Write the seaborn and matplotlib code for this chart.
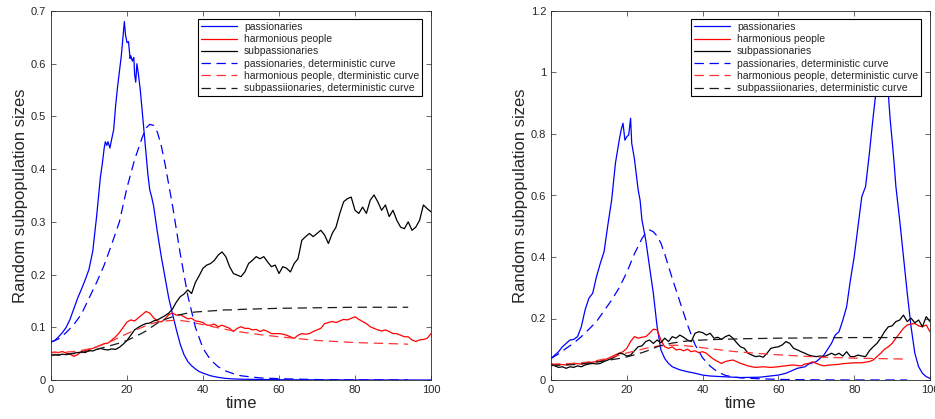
import numpy as np
import pandas as pd
import matplotlib
matplotlib.use("Agg")
import matplotlib.pyplot as plt
import seaborn as sns
from matplotlib.ticker import FuncFormatter

# ---------------- DATA ----------------
# Left panel, stochastic
L_pas_t = [0,1,2,3,4,5,6,7,8,9,10,11,12,13,13.5,14,14.3,14.7,15,15.5,16,16.5,17,17.5,18,18.5,19,19.3,19.6,20,20.4,20.8,21,21.4,21.8,22,22.3,22.6,23,23.5,24,24.5,25,25.5,26,26.5,27,28,29,30,31,32,33,34,35,36,37,38,39,40,42,44,46,48,50,55,60,70,80,90,100]
L_pas_v = [0.072,0.075,0.082,0.090,0.100,0.115,0.135,0.155,0.172,0.190,0.210,0.245,0.310,0.385,0.410,0.440,0.452,0.445,0.452,0.440,0.458,0.475,0.520,0.555,0.585,0.615,0.655,0.680,0.655,0.640,0.642,0.610,0.615,0.605,0.612,0.580,0.565,0.600,0.580,0.550,0.510,0.470,0.430,0.390,0.360,0.347,0.330,0.280,0.235,0.195,0.155,0.125,0.095,0.068,0.048,0.035,0.027,0.021,0.016,0.013,0.008,0.005,0.003,0.002,0.0015,0.001,0.0005,0.0002,0.0001,0.0,0.0]

L_t = list(range(0, 101))
L_harm_v = [0.052,0.053,0.052,0.054,0.051,0.049,0.045,0.048,0.054,0.056,0.058,0.060,0.063,0.066,0.069,0.070,0.076,0.082,0.090,0.100,0.110,0.114,0.112,0.118,0.124,0.130,0.127,0.118,0.112,0.110,0.116,0.124,0.127,0.123,0.124,0.120,0.116,0.117,0.112,0.111,0.109,0.104,0.104,0.106,0.101,0.104,0.101,0.098,0.092,0.098,0.101,0.098,0.098,0.095,0.096,0.092,0.095,0.092,0.088,0.088,0.088,0.087,0.085,0.082,0.079,0.085,0.088,0.087,0.088,0.092,0.095,0.098,0.107,0.109,0.111,0.109,0.112,0.115,0.114,0.117,0.120,0.115,0.111,0.107,0.101,0.098,0.095,0.093,0.095,0.092,0.088,0.088,0.085,0.082,0.082,0.076,0.073,0.076,0.077,0.079,0.088]
L_sub_v = [0.047,0.048,0.047,0.049,0.048,0.050,0.051,0.052,0.053,0.052,0.056,0.055,0.058,0.060,0.058,0.057,0.059,0.058,0.062,0.068,0.075,0.085,0.095,0.100,0.104,0.107,0.108,0.112,0.114,0.118,0.122,0.127,0.135,0.148,0.158,0.163,0.171,0.164,0.185,0.198,0.212,0.218,0.221,0.227,0.237,0.243,0.234,0.215,0.202,0.199,0.196,0.205,0.221,0.227,0.234,0.230,0.234,0.224,0.215,0.218,0.202,0.215,0.212,0.205,0.221,0.230,0.265,0.272,0.278,0.272,0.278,0.284,0.275,0.259,0.278,0.290,0.316,0.338,0.344,0.347,0.322,0.316,0.328,0.316,0.341,0.351,0.338,0.322,0.332,0.310,0.322,0.303,0.290,0.287,0.300,0.284,0.290,0.303,0.332,0.325,0.319]

# Deterministic curves
D_t = [0,2,4,6,8,10,12,14,16,18,20,22,24,25,26,27,28,29,30,32,34,36,38,40,42,44,46,48,50,55,60,70,80,94]
L_dpas_v = [0.072,0.078,0.090,0.105,0.125,0.155,0.185,0.218,0.258,0.300,0.365,0.418,0.460,0.478,0.485,0.483,0.470,0.445,0.410,0.330,0.240,0.160,0.100,0.060,0.038,0.025,0.017,0.012,0.008,0.004,0.0025,0.0008,0.0003,0.0001]
D_harm_v = [0.052,0.052,0.053,0.054,0.056,0.059,0.063,0.068,0.074,0.081,0.088,0.094,0.100,0.103,0.106,0.108,0.110,0.111,0.112,0.113,0.113,0.111,0.108,0.105,0.102,0.099,0.096,0.093,0.091,0.086,0.082,0.075,0.071,0.068]
D_sub_v = [0.047,0.048,0.049,0.050,0.052,0.055,0.058,0.062,0.066,0.070,0.075,0.082,0.089,0.093,0.098,0.103,0.108,0.112,0.115,0.120,0.124,0.127,0.129,0.130,0.131,0.132,0.133,0.133,0.134,0.135,0.136,0.137,0.138,0.138]

# Right panel, stochastic
R_pas_t = [0,1,2,3,4,5,6,7,8,9,10,11,12,13,14,15,16,17,18,18.5,19,19.5,20,20.5,21,21.3,22,23,23.5,24,25,26,27,28,29,30,31,32,34,36,38,40,42,45,50,55,60,62,65,67,68,70,72,74,75,76,77,78,79,80,81,82,83,84,85,85.5,86,87,88,89,89.5,90,90.5,91,92,93,94,95,96,97,98,99,100]
R_pas_v = [0.070,0.081,0.092,0.108,0.119,0.130,0.132,0.141,0.173,0.228,0.266,0.282,0.336,0.379,0.417,0.504,0.585,0.705,0.780,0.813,0.835,0.780,0.791,0.797,0.851,0.770,0.720,0.618,0.585,0.520,0.455,0.368,0.282,0.173,0.098,0.070,0.054,0.043,0.033,0.027,0.022,0.016,0.013,0.011,0.008,0.009,0.016,0.022,0.038,0.043,0.052,0.060,0.081,0.119,0.146,0.157,0.195,0.238,0.325,0.401,0.499,0.596,0.629,0.737,0.856,0.910,0.960,1.020,1.030,0.930,0.846,0.780,0.710,0.629,0.520,0.401,0.282,0.173,0.087,0.043,0.022,0.011,0.005]

R_t = list(range(0, 101))
R_harm_v = [0.049,0.050,0.051,0.050,0.049,0.052,0.054,0.053,0.052,0.055,0.056,0.058,0.060,0.062,0.065,0.070,0.076,0.082,0.087,0.092,0.103,0.125,0.141,0.136,0.139,0.141,0.152,0.165,0.163,0.130,0.108,0.103,0.108,0.098,0.100,0.095,0.100,0.092,0.095,0.089,0.092,0.087,0.076,0.067,0.060,0.054,0.060,0.063,0.065,0.060,0.054,0.050,0.046,0.043,0.041,0.042,0.043,0.042,0.041,0.042,0.043,0.045,0.046,0.048,0.049,0.047,0.046,0.052,0.054,0.059,0.054,0.049,0.046,0.048,0.049,0.050,0.051,0.053,0.054,0.055,0.056,0.056,0.056,0.058,0.060,0.065,0.076,0.087,0.100,0.108,0.119,0.136,0.152,0.168,0.179,0.182,0.184,0.176,0.173,0.179,0.157]
R_sub_v = [0.054,0.046,0.041,0.043,0.038,0.043,0.041,0.046,0.043,0.049,0.052,0.054,0.052,0.054,0.060,0.065,0.070,0.076,0.087,0.085,0.078,0.081,0.095,0.108,0.111,0.125,0.130,0.119,0.130,0.121,0.136,0.125,0.141,0.136,0.146,0.139,0.130,0.125,0.152,0.157,0.154,0.146,0.152,0.136,0.139,0.132,0.141,0.146,0.136,0.121,0.108,0.103,0.087,0.081,0.076,0.078,0.074,0.087,0.103,0.106,0.108,0.114,0.125,0.119,0.103,0.098,0.092,0.087,0.081,0.078,0.076,0.078,0.076,0.081,0.087,0.081,0.087,0.078,0.092,0.076,0.076,0.081,0.078,0.076,0.095,0.108,0.119,0.136,0.157,0.173,0.176,0.190,0.195,0.211,0.190,0.201,0.186,0.195,0.173,0.206,0.190]

R_dpas_v = [0.070,0.085,0.103,0.120,0.141,0.165,0.190,0.225,0.260,0.300,0.350,0.410,0.460,0.478,0.488,0.482,0.468,0.445,0.410,0.330,0.255,0.180,0.115,0.072,0.045,0.026,0.015,0.010,0.007,0.004,0.002,0.0005,0.0002,0.0001]

labels_left = ["passionaries", "harmonious people", "subpassionaries",
               "passionaries, deterministic curve",
               "harmonious people, dterministic curve",
               "subpassiionaries, deterministic curve"]
labels_right = ["passionaries", "harmonious people", "subpassionaries",
                "passionaries, deterministic curve",
                "harmonious people, deterministic curve",
                "subpassiionaries, deterministic curve"]

# ---------------- STYLE ----------------
sns.set_theme(style="ticks")
plt.rcParams.update({
    "font.family": ["Liberation Sans", "DejaVu Sans"],
    "axes.edgecolor": "#262626",
    "axes.linewidth": 0.6,
    "xtick.direction": "in",
    "ytick.direction": "in",
    "xtick.top": True,
    "ytick.right": True,
    "xtick.major.size": 3.5,
    "ytick.major.size": 3.5,
    "xtick.major.width": 0.5,
    "ytick.major.width": 0.5,
    "xtick.color": "#262626",
    "ytick.color": "#262626",
    "xtick.labelsize": 8,
    "ytick.labelsize": 8,
})

fig = plt.figure(figsize=(9.35, 4.19), dpi=100)
axL = fig.add_axes([51/935, 39/419, 380/935, 369/419])
axR = fig.add_axes([551/935, 39/419, 379/935, 369/419])

BLUE = "#0000ff"
RED = "#ff0000"
BLACK = "#000000"
DASH = (0, (7.5, 4.5))
LW = 0.9


def draw(ax, pas_t, pas_v, t, harm_v, sub_v, dpas_v, labels, ymax, yticks):
    sns.lineplot(x=pas_t, y=pas_v, ax=ax, color=BLUE, lw=LW, estimator=None, sort=False, label=labels[0])
    sns.lineplot(x=t, y=harm_v, ax=ax, color=RED, lw=LW, estimator=None, sort=False, label=labels[1])
    sns.lineplot(x=t, y=sub_v, ax=ax, color=BLACK, lw=LW, estimator=None, sort=False, label=labels[2])
    sns.lineplot(x=D_t, y=dpas_v, ax=ax, color=BLUE, lw=LW, linestyle=DASH, estimator=None, sort=False, label=labels[3])
    sns.lineplot(x=D_t, y=D_harm_v, ax=ax, color="#ff3333", lw=LW, linestyle=DASH, estimator=None, sort=False, label=labels[4])
    sns.lineplot(x=D_t, y=D_sub_v, ax=ax, color="#1a1a1a", lw=LW, linestyle=DASH, estimator=None, sort=False, label=labels[5])
    ax.set_xlim(0, 100)
    ax.set_ylim(0, ymax)
    ax.set_xticks([0, 20, 40, 60, 80, 100])
    ax.set_yticks(yticks)
    ax.yaxis.set_major_formatter(FuncFormatter(lambda v, p: "%g" % round(v, 2)))
    ax.set_xlabel("time", fontsize=12, labelpad=1, color="#262626")
    ax.set_ylabel("Random subpopulation sizes", fontsize=12, labelpad=2, color="#262626")
    for s in ax.spines.values():
        s.set_visible(True)
    leg = ax.legend(loc="upper right", bbox_to_anchor=(0.977, 0.979), borderaxespad=0,
                    fontsize=7.5, frameon=True, fancybox=False, framealpha=1,
                    edgecolor="#000000", handlelength=3.4, handletextpad=0.7,
                    labelspacing=0.22, borderpad=0.3)
    leg.get_frame().set_linewidth(0.8)
    for txt in leg.get_texts():
        txt.set_color("#262626")


draw(axL, L_pas_t, L_pas_v, L_t, L_harm_v, L_sub_v, L_dpas_v, labels_left, 0.7,
     [0, 0.1, 0.2, 0.3, 0.4, 0.5, 0.6, 0.7])
draw(axR, R_pas_t, R_pas_v, R_t, R_harm_v, R_sub_v, R_dpas_v, labels_right, 1.2,
     [0, 0.2, 0.4, 0.6, 0.8, 1.0, 1.2])

fig.savefig("out.png", dpi=100)
